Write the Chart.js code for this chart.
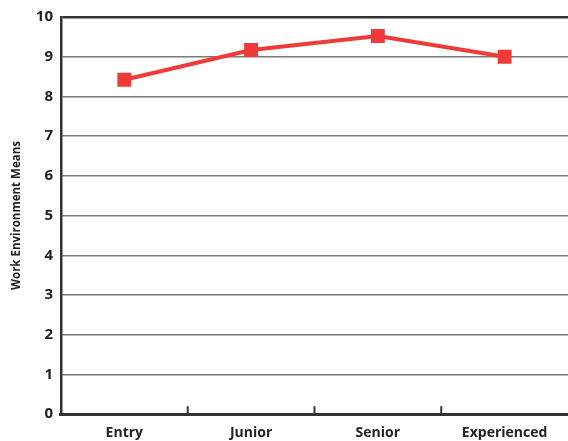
<!DOCTYPE html>
<html>
<head>
<meta charset="utf-8">
<script src="https://cdn.jsdelivr.net/npm/chart.js@4"></script>
<style>
  html, body { margin: 0; padding: 0; background: #fff; overflow: hidden; }
  canvas { display: block; }
</style>
</head>
<body>
<canvas id="myChart" width="568" height="441"></canvas>
<script>
let levels = ['Entry', 'Junior', 'Senior', 'Experienced'];
let means = [8.42, 9.17, 9.52, 9.0];
let yTicks = [0, 1, 2, 3, 4, 5, 6, 7, 8, 9, 10];

// short tick marks between categories, standing up from the bottom axis
const catTicks = {
  id: 'catTicks',
  afterDraw(chart) {
    const ctx = chart.ctx, x = chart.scales.x, area = chart.chartArea;
    ctx.save();
    ctx.strokeStyle = '#333';
    ctx.lineWidth = 2;
    for (let i = 0; i < levels.length - 1; i++) {
      let px = (x.getPixelForValue(i) + x.getPixelForValue(i + 1)) / 2;
      ctx.beginPath();
      ctx.moveTo(px, area.bottom);
      ctx.lineTo(px, area.bottom - 8);
      ctx.stroke();
    }
    ctx.restore();
  }
};

const data = {
  labels: levels,
  datasets: [{
    label: 'Work Environment Means',
    data: means,
    borderColor: '#ee3b37',
    backgroundColor: '#ee3b37',
    borderWidth: 4,
    pointStyle: 'rect',
    pointRadius: 7,
    pointHoverRadius: 7,
    tension: 0
  }]
};

const config = {
  type: 'line',
  data: data,
  plugins: [catTicks],
  options: {
    responsive: false,
    animation: false,
    layout: { autoPadding: false, padding: { top: 15, right: 0, left: 10, bottom: -10 } },
    plugins: { legend: { display: false }, tooltip: { enabled: false } },
    scales: {
      x: {
        offset: true,
        grid: { display: false, drawTicks: false },
        border: { display: true, color: '#333', width: 3 },
        ticks: {
          color: '#222',
          padding: 10,
          font: { family: 'Open Sans', size: 14, weight: 'bold' }
        }
      },
      y: {
        min: 0,
        max: 10,
        afterBuildTicks: (axis) => { axis.ticks = yTicks.map(v => ({ value: v })); },
        grid: {
          drawTicks: false,
          color: (c) => c.tick && c.tick.value === 10 ? '#333' : '#7a7a7a',
          lineWidth: (c) => c.tick && c.tick.value === 10 ? 2.5 : 1.5
        },
        border: { display: true, color: '#333', width: 2.5 },
        ticks: {
          color: '#222',
          padding: 8,
          font: { family: 'Open Sans', size: 15, weight: 'bold' }
        },
        title: {
          display: true,
          text: 'Work Environment Means',
          color: '#222',
          padding: { top: 0, bottom: 4 },
          font: { family: 'Open Sans', size: 11.5, weight: 'bold' }
        }
      }
    }
  }
};

var ctx = document.getElementById('myChart');
var mychart = new Chart(ctx, config);
</script>
</body>
</html>
